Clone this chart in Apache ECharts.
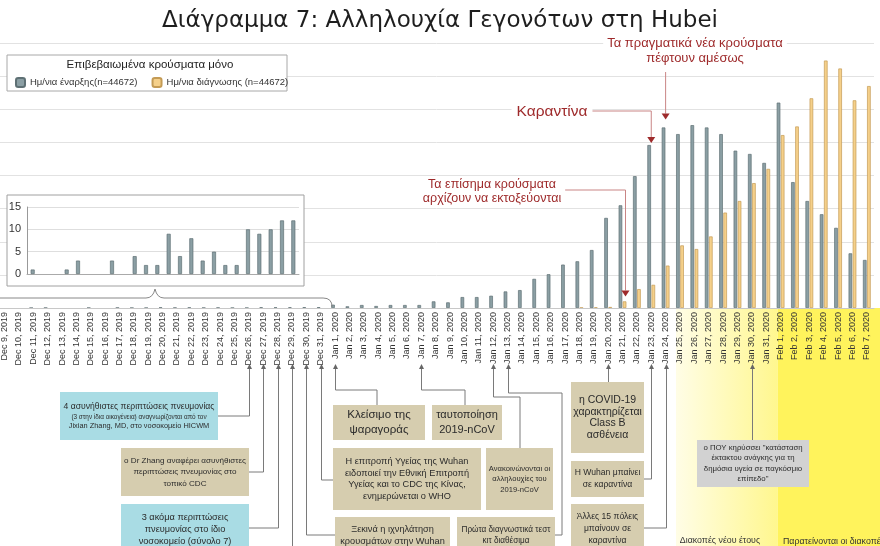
<!DOCTYPE html>
<html>
<head>
<meta charset="utf-8">
<script src="https://cdn.jsdelivr.net/npm/echarts@6/dist/echarts.min.js"></script>
<style>
html, body { margin: 0; padding: 0; background: #fff; }
#main { width: 880px; height: 546px; }
</style>
</head>
<body>
<div id="main"></div>
<script>
// ημερομηνίες (Dec 8, 2019 - Feb 7, 2020)
const dates = [
  'Dec 8, 2019', 'Dec 9, 2019', 'Dec 10, 2019', 'Dec 11, 2019', 'Dec 12, 2019', 'Dec 13, 2019',
  'Dec 14, 2019', 'Dec 15, 2019', 'Dec 16, 2019', 'Dec 17, 2019', 'Dec 18, 2019', 'Dec 19, 2019',
  'Dec 20, 2019', 'Dec 21, 2019', 'Dec 22, 2019', 'Dec 23, 2019', 'Dec 24, 2019', 'Dec 25, 2019',
  'Dec 26, 2019', 'Dec 27, 2019', 'Dec 28, 2019', 'Dec 29, 2019', 'Dec 30, 2019', 'Dec 31, 2019',
  'Jan 1, 2020', 'Jan 2, 2020', 'Jan 3, 2020', 'Jan 4, 2020', 'Jan 5, 2020', 'Jan 6, 2020',
  'Jan 7, 2020', 'Jan 8, 2020', 'Jan 9, 2020', 'Jan 10, 2020', 'Jan 11, 2020', 'Jan 12, 2020',
  'Jan 13, 2020', 'Jan 14, 2020', 'Jan 15, 2020', 'Jan 16, 2020', 'Jan 17, 2020', 'Jan 18, 2020',
  'Jan 19, 2020', 'Jan 20, 2020', 'Jan 21, 2020', 'Jan 22, 2020', 'Jan 23, 2020', 'Jan 24, 2020',
  'Jan 25, 2020', 'Jan 26, 2020', 'Jan 27, 2020', 'Jan 28, 2020', 'Jan 29, 2020', 'Jan 30, 2020',
  'Jan 31, 2020', 'Feb 1, 2020', 'Feb 2, 2020', 'Feb 3, 2020', 'Feb 4, 2020', 'Feb 5, 2020',
  'Feb 6, 2020', 'Feb 7, 2020'
];

// κρούσματα ανά ημ/νια έναρξης
const onset = [
  1, 0, 0, 1, 3, 0, 0, 3, 0, 4, 2, 2, 9, 4, 8, 3, 5, 2, 2, 10, 9, 10, 12, 12,
  50, 25, 45, 30, 45, 45, 45, 100, 85, 165, 165, 185, 250, 270, 440, 510, 655,
  705, 875, 1360, 1550, 1990, 2460, 2725, 2625, 2760, 2725, 2625, 2375, 2325, 2190,
  3100, 1900, 1615, 1415, 1210, 825, 725
];

// κρούσματα ανά ημ/νια διάγνωσης
const diagnosis = [
  0, 0, 0, 0, 0, 0, 0, 0, 0, 0, 0, 0, 0, 0, 0, 0, 0, 0, 0, 0, 0, 0, 0, 0,
  0, 0, 0, 0, 0, 0, 0, 0, 0, 0, 0, 0, 0, 0, 0, 0, 0,
  5, 10, 15, 100, 285, 350, 640, 945, 890, 1080, 1440, 1615, 1885, 2100,
  2610, 2740, 3165, 3735, 3615, 3135, 3350
];

// μικρό διάγραμμα Δεκεμβρίου
const insetDates = dates.slice(0, 24);
const insetOnset = onset.slice(0, 24);
const insetTicks = [0, 5, 10, 15];

const mainMax = 4000;
const mainStep = 500;

const nameOnset = 'Ημ/νια έναρξης(n=44672)';
const nameDiag = 'Ημ/νια διάγνωσης (n=44672)';

const FONT = 'Liberation Sans';
const GRAY = '#8b9fa4';
const ORANGE = '#f5d08a';

// οι μηδενικές μέρες δεν σχεδιάζονται
const noZero = arr => arr.map(v => (v === 0 ? '-' : v));

const chart = echarts.init(document.getElementById('main'));

const option = {
  animation: false,
  backgroundColor: '#fff',
  title: {
    text: 'Διάγραμμα 7: Αλληλουχία Γεγονότων στη Hubei',
    left: 'center',
    top: 5,
    textStyle: { fontFamily: 'DejaVu Sans', fontSize: 23, fontWeight: 'normal', color: '#1e1e1e' }
  },
  legend: {
    data: [nameOnset, nameDiag],
    left: 10,
    top: 72,
    itemWidth: 9,
    itemHeight: 9,
    itemGap: 14,
    z: 6,
    textStyle: { fontFamily: FONT, fontSize: 9.5, color: '#333' }
  },
  grid: [
    { left: -17, right: 6, top: 43, bottom: 238, outerBoundsMode: 'none' },
    { left: 27, top: 207, width: 272, height: 67, outerBoundsMode: 'none' }
  ],
  xAxis: [
    {
      type: 'category',
      data: dates,
      gridIndex: 0,
      z: 5,
      axisTick: { show: false },
      axisLine: { lineStyle: { color: '#c8c8c8' } },
      axisLabel: {
        rotate: 90, interval: 0, margin: 4,
        fontFamily: 'Liberation Sans', fontSize: 9, color: '#333'
      }
    },
    {
      type: 'category',
      data: insetDates,
      gridIndex: 1,
      z: 5,
      axisTick: { show: false },
      axisLabel: { show: false },
      axisLine: { lineStyle: { color: '#aaa' } }
    }
  ],
  yAxis: [
    {
      type: 'value', gridIndex: 0, min: 0, max: mainMax, interval: mainStep,
      axisLabel: { show: false },
      axisLine: { show: false },
      axisTick: { show: false },
      splitLine: { lineStyle: { color: '#e2e2e2' } }
    },
    {
      type: 'value', gridIndex: 1,
      min: insetTicks[0], max: insetTicks[insetTicks.length - 1],
      interval: insetTicks[1] - insetTicks[0],
      z: 5,
      axisLine: { show: true, lineStyle: { color: '#999' } },
      axisTick: { show: false },
      axisLabel: { fontFamily: 'Liberation Sans', fontSize: 11, color: '#333', margin: 6 },
      splitLine: { lineStyle: { color: '#dedede' } }
    }
  ],
  series: [
    {
      name: nameOnset, type: 'bar', data: noZero(onset),
      xAxisIndex: 0, yAxisIndex: 0,
      barWidth: 3.6, barGap: '15%',
      itemStyle: { color: GRAY, borderColor: '#5e7074', borderWidth: 0.7 }
    },
    {
      name: nameDiag, type: 'bar', data: noZero(diagnosis),
      xAxisIndex: 0, yAxisIndex: 0,
      barWidth: 3.6, barGap: '15%',
      itemStyle: { color: ORANGE, borderColor: '#c49b55', borderWidth: 0.7 }
    },
    {
      name: 'inset', type: 'bar', data: noZero(insetOnset),
      xAxisIndex: 1, yAxisIndex: 1, z: 6,
      barWidth: 4,
      itemStyle: { color: GRAY, borderColor: '#5e7074', borderWidth: 0.7 }
    }
  ]
};

chart.setOption(option);

// θέσεις από τους άξονες του διαγράμματος
const xOf = d => chart.convertToPixel({ xAxisIndex: 0 }, d);
const yOf = v => chart.convertToPixel({ yAxisIndex: 0 }, v);
const base = yOf(0);

function txt(x, y, text, size, color, extra) {
  return {
    type: 'text', z: 20,
    style: Object.assign({
      x: x, y: y, text: text,
      fontFamily: FONT, fontSize: size, fill: color,
      textAlign: 'center', textVerticalAlign: 'middle',
      align: 'center', verticalAlign: 'middle',
      lineHeight: Math.round(size * 1.3)
    }, extra || {})
  };
}

function box(x, y, w, h, fill, text, size, lh) {
  return {
    type: 'group', z: 20,
    children: [
      { type: 'rect', z: 20, shape: { x: x, y: y, width: w, height: h }, style: { fill: fill } },
      txt(x + w / 2, y + h / 2, text, size, '#2b2b2b', { lineHeight: lh })
    ]
  };
}

function line(pts, color, z) {
  return { type: 'polyline', z: z || 19, shape: { points: pts }, style: { stroke: color, lineWidth: 1, fill: null } };
}

function curve(x1, y1, cx, cy, x2, y2, color) {
  return { type: 'bezierCurve', z: 4, shape: { x1: x1, y1: y1, x2: x2, y2: y2, cpx1: cx, cpy1: cy }, style: { stroke: color, lineWidth: 1, fill: null } };
}

function arrowUp(x, y, color) {
  return { type: 'polygon', z: 21, shape: { points: [[x, y], [x - 2.5, y + 5], [x + 2.5, y + 5]] }, style: { fill: color } };
}

function arrowDown(x, y, color) {
  return { type: 'polygon', z: 21, shape: { points: [[x, y], [x - 4, y - 6], [x + 4, y - 6]] }, style: { fill: color } };
}

const g = [];

// κίτρινες περιοχές κάτω από τον άξονα
const y1 = xOf('Jan 25, 2020') - 4;
const y2 = xOf('Feb 1, 2020') - 3;
g.push({
  type: 'rect', z: 1, shape: { x: y1, y: base, width: y2 - y1, height: 546 - base },
  style: { fill: { type: 'linear', x: 0, y: 0, x2: 1, y2: 0, colorStops: [
    { offset: 0, color: '#fffde6' }, { offset: 1, color: '#fff78f' }] } }
});
g.push({
  type: 'rect', z: 1, shape: { x: y2, y: base, width: 880 - y2, height: 546 - base },
  style: { fill: '#fff35c' }
});

// πλαίσιο υπομνήματος
g.push({ type: 'rect', z: 5, shape: { x: 7, y: 55, width: 280, height: 36 }, style: { fill: '#fff', stroke: '#a8a8a8', lineWidth: 1 } });
g.push(txt(150, 65, 'Επιβεβαιωμένα κρούσματα μόνο', 11.5, '#222'));

// πλαίσιο μικρού διαγράμματος
g.push({ type: 'rect', z: 3, shape: { x: 7, y: 195, width: 297, height: 91 }, style: { fill: '#fff', stroke: '#a0a0a0', lineWidth: 1 } });

// άγκιστρο
const bL = xOf('Dec 8, 2019') - 4;
const bR = xOf('Jan 1, 2020') - 3;
const bM = 155;
const BR = '#888';
g.push(curve(bL, 306, bL, 298, bL + 8, 298, BR));
g.push(line([[bL + 8, 298], [bM - 9, 298]], BR, 4));
g.push(curve(bM - 9, 298, bM - 2, 298, bM, 289, BR));
g.push(curve(bM, 289, bM + 2, 298, bM + 9, 298, BR));
g.push(line([[bM + 9, 298], [bR - 9, 298]], BR, 4));
g.push(curve(bR - 9, 298, bR, 298, bR, 307, BR));

// κόκκινες σημειώσεις
const RED = '#9e2a2b';
const RLINE = '#c98585';
const xa = xOf('Jan 24, 2020');
g.push(txt(695, 51, 'Τα πραγματικά νέα κρούσματα\nπέφτουν αμέσως', 13, RED, { lineHeight: 15, backgroundColor: '#fff', padding: [0, 4] }));
g.push(line([[xa, 72], [xa, yOf(onset[47]) - 14]], RLINE));
g.push(arrowDown(xa, yOf(onset[47]) - 8, RED));

const xq = xOf('Jan 23, 2020');
g.push(txt(552, 112, 'Καραντίνα', 15.5, RED, { backgroundColor: '#fff', padding: [0, 5] }));
g.push(line([[590, 111], [xq, 111], [xq, yOf(onset[46]) - 7]], RLINE));
g.push(arrowDown(xq, yOf(onset[46]) - 2, RED));

const xo = xOf('Jan 21, 2020') + 3;
g.push(txt(492, 192, 'Τα επίσημα κρούσματα\nαρχίζουν να εκτοξεύονται', 12.5, RED, { lineHeight: 14, backgroundColor: '#fff', padding: [0, 4] }));
g.push(line([[562, 190], [xo, 190], [xo, yOf(diagnosis[44]) - 11]], RLINE));
g.push(arrowDown(xo, yOf(diagnosis[44]) - 5, RED));

// γεγονότα κάτω από τον άξονα
const BLUE = '#a9dce4';
const TAN = '#d6cdaf';
const GREY = '#d2d2d2';
const CL = '#7a7a7a';
const aTop = 366;

g.push(box(60, 392, 158, 48, BLUE, '', 8, 10));
g.push(txt(139, 407, '4 ασυνήθιστες περιπτώσεις πνευμονίας', 8.6, '#2b2b2b'));
g.push(txt(139, 417, '(3 στην ίδια οικογένεια) αναγνωρίζονται από τον', 6.4, '#2b2b2b'));
g.push(txt(139, 426, 'Jixian Zhang, MD, στο νοσοκομείο HICWM', 7.4, '#2b2b2b'));
g.push(box(121, 448, 128, 48, TAN, 'ο Dr Zhang αναφέρει ασυνήθιστες\nπεριπτώσεις πνευμονίας στο\nτοπικό CDC', 8.1, 11.5));
g.push(box(121, 504, 128, 50, BLUE, '3 ακόμα περιπτώσεις\nπνευμονίας στο ίδιο\nνοσοκομείο (σύνολο 7)', 9.2, 12));
g.push(box(333, 405, 92, 35, TAN, 'Κλείσιμο της\nψαραγοράς', 11.5, 15));
g.push(box(432, 405, 70, 35, TAN, 'ταυτοποίηση\n2019-nCoV', 11, 15));
g.push(box(333, 448, 148, 62, TAN, 'Η επιτροπή Υγείας της Wuhan\nειδοποιεί την Εθνική Επιτροπή\nΥγείας και το CDC της Κίνας,\nενημερώνεται ο WHO', 9.2, 11.5));
g.push(box(486, 448, 67, 62, TAN, 'Ανακοινώνονται οι\nαλληλουχίες του\n2019-nCoV', 7.6, 10.5));
g.push(box(335, 517, 115, 36, TAN, 'Ξεκινά η ιχνηλάτηση\nκρουσμάτων στην Wuhan', 9.2, 12));
g.push(box(457, 517, 98, 36, TAN, 'Πρώτα διαγνωστικά τεστ\nκιτ διαθέσιμα', 8.2, 11));
g.push(box(571, 382, 73, 71, TAN, 'η COVID-19\nχαρακτηρίζεται\nClass B\nασθένεια', 10.5, 11.5));
g.push(box(571, 461, 73, 36, TAN, 'Η Wuhan μπαίνει\nσε καραντίνα', 8.6, 12));
g.push(box(571, 504, 73, 50, TAN, 'Άλλες 15 πόλεις\nμπαίνουν σε\nκαραντίνα', 8.6, 12));
g.push(box(697, 440, 112, 47, GREY, 'ο ΠΟΥ κηρύσσει "κατάσταση\nέκτακτου ανάγκης για τη\nδημόσια υγεία σε παγκόσμιο\nεπίπεδο"', 7.8, 10.5));

g.push(txt(720, 541, 'Διακοπές νέου έτους', 8.8, '#333'));
g.push(txt(856, 536, 'Παρατείνονται οι διακοπές νέου έτους\nσε εθνικό επίπεδο', 8.8, '#333', { lineHeight: 11, textVerticalAlign: 'top', verticalAlign: 'top' }));

// συνδέσεις προς τις ημερομηνίες
const links = [
  ['Dec 26, 2019', X => [[X, aTop], [X, 416], [218, 416]]],
  ['Dec 27, 2019', X => [[X, aTop], [X, 472], [249, 472]]],
  ['Dec 28, 2019', X => [[X, aTop], [X, 528], [249, 528]]],
  ['Dec 29, 2019', X => [[X, aTop], [X, 546]]],
  ['Dec 30, 2019', X => [[X, aTop], [X, 535], [335, 535]]],
  ['Dec 31, 2019', X => [[X, aTop], [X, 480], [333, 480]]],
  ['Jan 1, 2020', X => [[X, aTop], [X, 390], [377, 390], [377, 405]]],
  ['Jan 7, 2020', X => [[X, aTop], [X, 390], [465, 390], [465, 405]]],
  ['Jan 12, 2020', X => [[X, aTop], [X, 397], [520, 397], [520, 448]]],
  ['Jan 13, 2020', X => [[X, aTop], [X, 393], [562, 393], [562, 535], [555, 535]]],
  ['Jan 20, 2020', X => [[X, aTop], [X, 382]]],
  ['Jan 23, 2020', X => [[X, aTop], [X, 479], [644, 479]]],
  ['Jan 24, 2020', X => [[X, aTop], [X, 528], [644, 528]]],
  ['Jan 30, 2020', X => [[X, aTop], [X, 440]]]
];
links.forEach(([d, f]) => {
  const X = Math.round(xOf(d)) + 0.5;
  g.push(line(f(X), CL));
  g.push(arrowUp(X, aTop - 2, '#666'));
});

chart.setOption({ graphic: g });
</script>
</body>
</html>
